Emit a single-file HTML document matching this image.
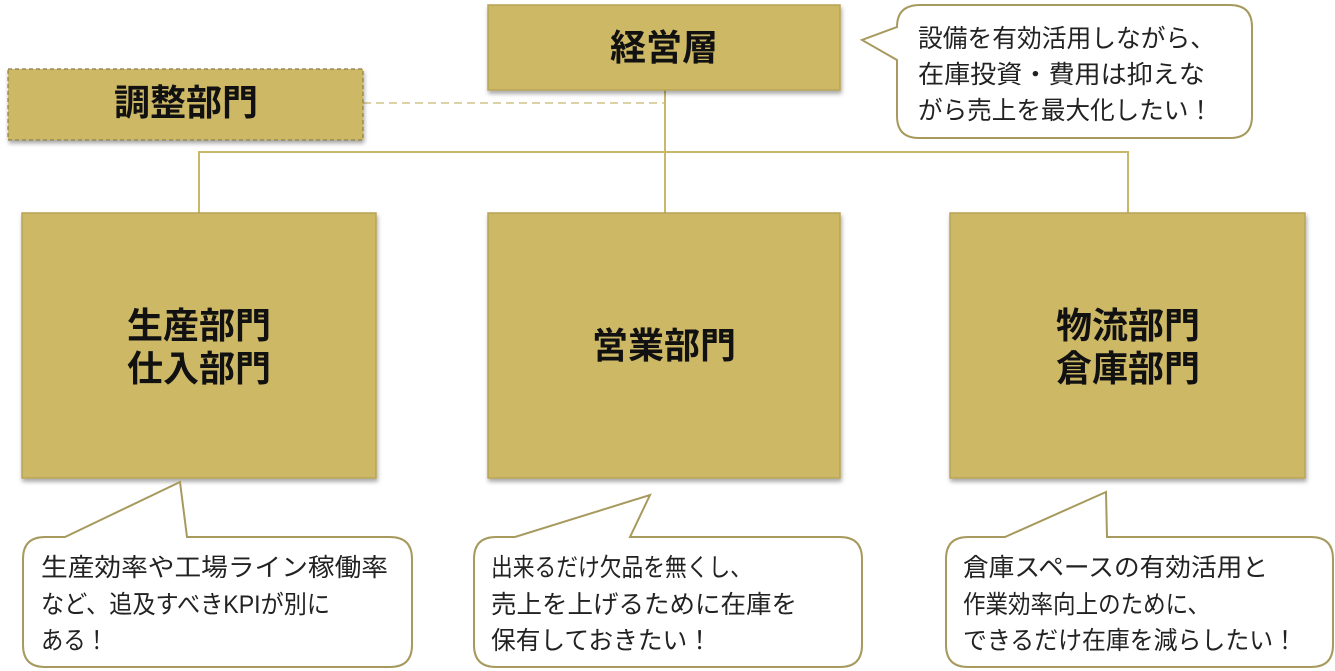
<!DOCTYPE html>
<html><head><meta charset="utf-8"><style>
html,body{margin:0;padding:0;background:#fff;}
svg{display:block;}
text{font-family:"Liberation Sans","Noto Sans CJK JP",sans-serif;}
.b{font-weight:bold;font-size:36px;fill:#111;}
.c{font-size:25px;fill:#222;}
</style></head><body>
<svg width="1335" height="671" viewBox="0 0 1335 671" xmlns="http://www.w3.org/2000/svg">
<defs><filter id="sh" x="-5%" y="-5%" width="110%" height="115%"><feDropShadow dx="1" dy="3" stdDeviation="2" flood-color="#000" flood-opacity="0.35"/></filter></defs>
<line x1="363" y1="103" x2="665" y2="103" stroke="#d2c48a" stroke-width="1.5" stroke-dasharray="8,5"/>
<line x1="665" y1="90" x2="665" y2="213" stroke="#c9b76a" stroke-width="2"/>
<polyline points="199,213 199,152 1128,152 1128,213" fill="none" stroke="#c9b76a" stroke-width="2"/>
<g fill="#cdb866" stroke="#b8a355" stroke-width="1.5" filter="url(#sh)">
<rect x="488" y="5" width="352" height="85"/>
<rect x="22" y="213" width="354" height="265"/>
<rect x="488" y="213" width="352" height="265"/>
<rect x="950" y="213" width="355" height="265"/>
</g>
<rect x="8" y="69" width="355" height="71" fill="#cdb866" stroke="#8a7b45" stroke-width="1.2" stroke-dasharray="4,3" filter="url(#sh)"/>
<text class="b" x="664" y="60" text-anchor="middle">経営層</text>
<text class="b" x="186" y="115" text-anchor="middle">調整部門</text>
<text class="b" x="199" y="338" text-anchor="middle">生産部門</text>
<text class="b" x="199" y="381" text-anchor="middle">仕入部門</text>
<text class="b" x="664" y="358" text-anchor="middle">営業部門</text>
<text class="b" x="1128" y="338" text-anchor="middle">物流部門</text>
<text class="b" x="1128" y="381" text-anchor="middle">倉庫部門</text>
<g fill="#fff" stroke="#a79a5e" stroke-width="2">
<path d="M920,5 H1230 Q1252,5 1252,27 V116 Q1252,138 1230,138 H919 Q897,138 897,116 V60 L862,40 L897,27 Q897,5 920,5 Z"/>
<path d="M45,537 H65 L180,482 L187,537 H390 Q412,537 412,559 V645 Q412,667 390,667 H45 Q23,667 23,645 V559 Q23,537 45,537 Z"/>
<path d="M496,537 H515 L650,495 L630,537 H840 Q862,537 862,559 V645 Q862,667 840,667 H496 Q474,667 474,645 V559 Q474,537 496,537 Z"/>
<path d="M968,537 H1005 L1106,492 L1107,537 H1311 Q1333,537 1333,559 V645 Q1333,667 1311,667 H968 Q946,667 946,645 V559 Q946,537 968,537 Z"/>
</g>
<text class="c" x="918" y="47" textLength="297" lengthAdjust="spacingAndGlyphs">設備を有効活用しながら、</text>
<text class="c" x="918" y="83" textLength="287" lengthAdjust="spacingAndGlyphs">在庫投資・費用は抑えな</text>
<text class="c" x="918" y="119" textLength="295" lengthAdjust="spacingAndGlyphs">がら売上を最大化したい！</text>
<text class="c" x="41" y="576" textLength="347" lengthAdjust="spacingAndGlyphs">生産効率や工場ライン稼働率</text>
<text class="c" x="41" y="613" textLength="289" lengthAdjust="spacingAndGlyphs">など、追及すべきKPIが別に</text>
<text class="c" x="41" y="649" textLength="67" lengthAdjust="spacingAndGlyphs">ある！</text>
<text class="c" x="491" y="576" textLength="261" lengthAdjust="spacingAndGlyphs">出来るだけ欠品を無くし、</text>
<text class="c" x="491" y="613" textLength="306" lengthAdjust="spacingAndGlyphs">売上を上げるために在庫を</text>
<text class="c" x="491" y="649" textLength="221" lengthAdjust="spacingAndGlyphs">保有しておきたい！</text>
<text class="c" x="963" y="576" textLength="305" lengthAdjust="spacingAndGlyphs">倉庫スペースの有効活用と</text>
<text class="c" x="963" y="613" textLength="247" lengthAdjust="spacingAndGlyphs">作業効率向上のために、</text>
<text class="c" x="963" y="649" textLength="334" lengthAdjust="spacingAndGlyphs">できるだけ在庫を減らしたい！</text>
</svg>
</body></html>
